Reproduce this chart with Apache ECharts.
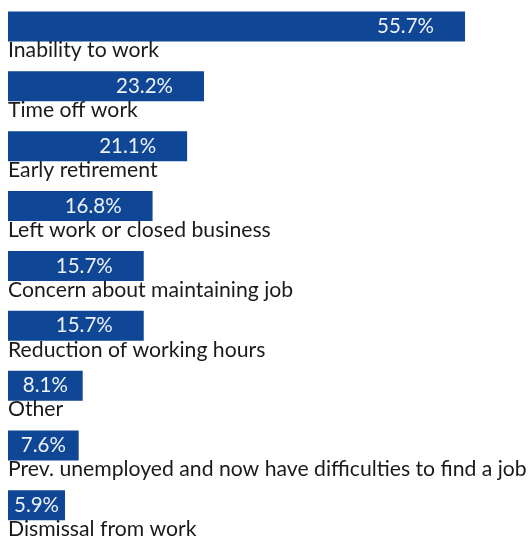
<!DOCTYPE html>
<html>
<head>
<meta charset="utf-8">
<script src="https://cdn.jsdelivr.net/npm/echarts@6/dist/echarts.min.js"></script>
<style>
  html, body { margin: 0; padding: 0; background: #fff; }
  #chart { width: 530px; height: 552px; }
</style>
</head>
<body>
<div id="chart"></div>
<script>
// Reasons given, share of respondents (%)
const categories = [
  'Inability to work',
  'Time off work',
  'Early retirement',
  'Left work or closed business',
  'Concern about maintaining job',
  'Reduction of working hours',
  'Other',
  'Prev. unemployed and now have difficulties to find a job',
  'Dismissal from work'
];
const shares = [55.7, 23.2, 21.1, 16.8, 15.7, 15.7, 8.1, 7.6, 5.9];

const BAR_COLOR = '#0f4696';
const FONT = 'Lato, "Noto Sans", sans-serif';

// axis scale: px per percentage point, and where bars begin
const AXIS_MIN = -1.2;
const AXIS_MAX = 60;
const PX_PER_UNIT = 8.032;

const chart = echarts.init(document.getElementById('chart'), null, { renderer: 'canvas' });

// Short bars get their value centred, longer ones keep it near the end
const valueData = shares.map(v => {
  const len = (v - AXIS_MIN) * PX_PER_UNIT;
  return {
    value: v,
    label: len > 110
      ? { position: 'insideRight', distance: 31 }
      : { position: 'inside' }
  };
});

chart.setOption({
  animation: false,
  grid: {
    left: 8,
    top: -3.5,
    width: (AXIS_MAX - AXIS_MIN) * PX_PER_UNIT,
    height: 538.8,
    outerBoundsMode: 'none'
  },
  xAxis: {
    type: 'value',
    min: AXIS_MIN,
    max: AXIS_MAX,
    startValue: AXIS_MIN,
    show: false
  },
  yAxis: {
    type: 'category',
    data: categories,
    inverse: true,
    show: false
  },
  series: [
    {
      type: 'bar',
      data: valueData,
      barWidth: 30,
      itemStyle: { color: BAR_COLOR },
      label: {
        show: true,
        color: '#eef2f8',
        fontFamily: FONT,
        fontWeight: 'normal',
        fontSize: 20.5,
        formatter: p => p.value.toFixed(1) + '%'
      },
      silent: true
    },
    {
      // category names written under each bar
      type: 'bar',
      data: shares,
      barWidth: 30,
      barGap: '-100%',
      itemStyle: { color: 'rgba(0,0,0,0)' },
      label: {
        show: true,
        position: [0, 39],
        align: 'left',
        verticalAlign: 'middle',
        color: '#1a1a1a',
        fontFamily: FONT,
        fontSize: 21.2,
        formatter: '{b}'
      },
      silent: true,
      z: 3
    }
  ]
});
</script>
</body>
</html>
